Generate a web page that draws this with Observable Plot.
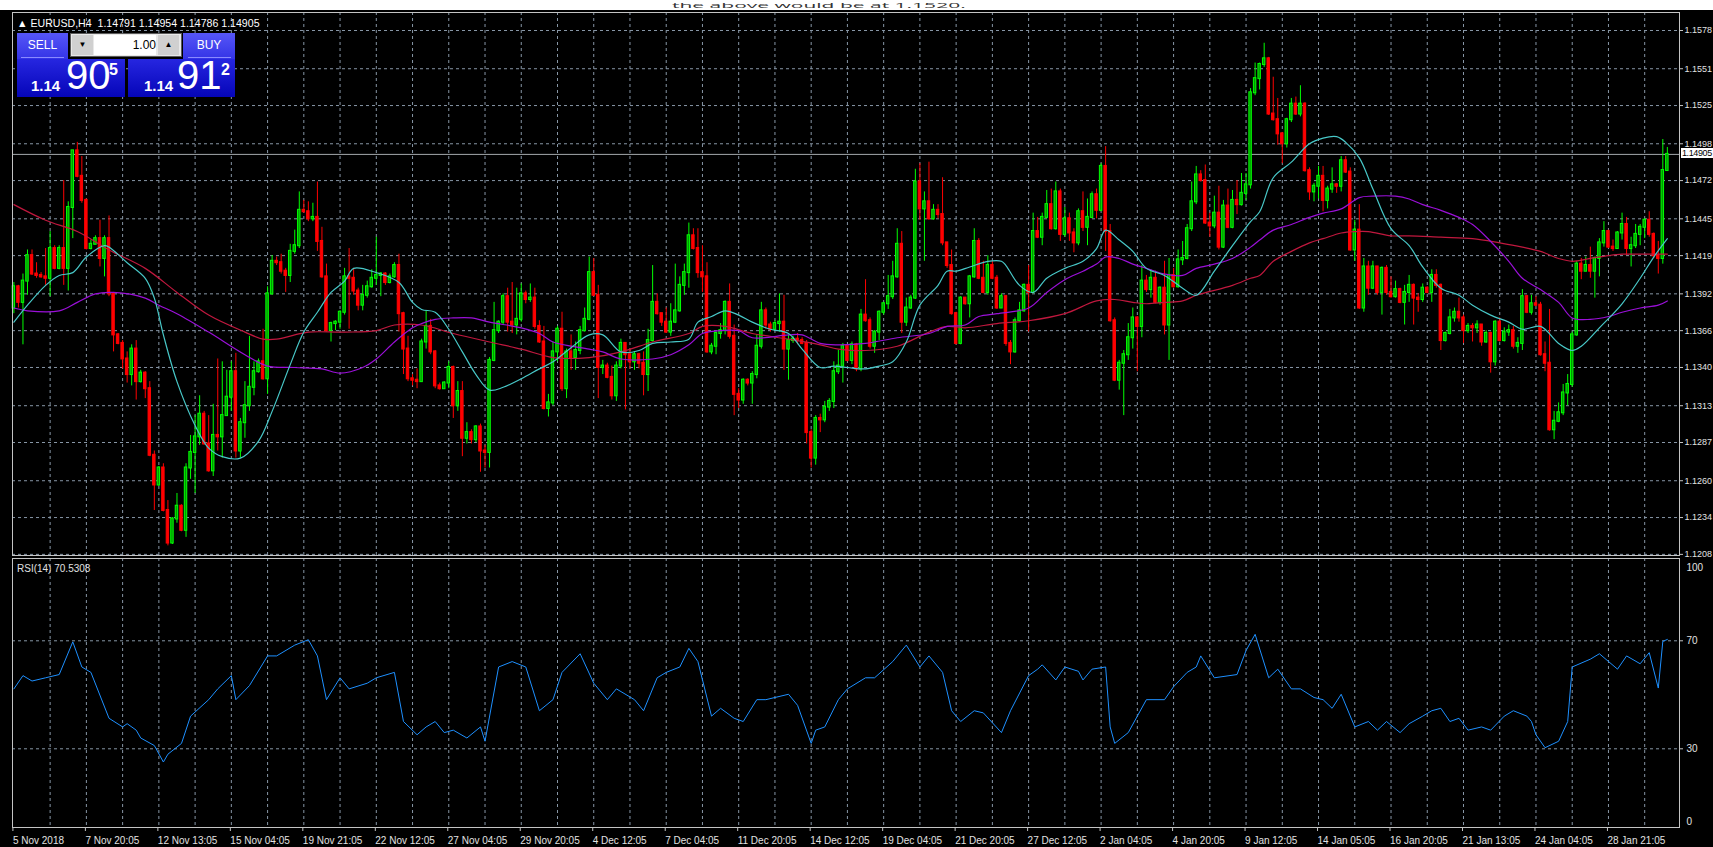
<!DOCTYPE html>
<html><head><meta charset="utf-8">
<script src="https://cdn.jsdelivr.net/npm/d3@7"></script>
<script src="https://cdn.jsdelivr.net/npm/@observablehq/plot@0.6"></script>
<style>
html,body{margin:0;padding:0;background:#000;}
#wrap{position:relative;width:1713px;height:847px;overflow:hidden;background:#000;font-family:"Liberation Sans",Arial,sans-serif;}
#wrap svg{position:absolute;left:0;top:0;}
.abs{position:absolute;}
#note{left:0;top:0;width:1713px;height:10px;background:#fff;overflow:hidden;}
#note span{position:absolute;left:672px;top:-5px;font:21px "Open Sans",sans-serif;line-height:21px;color:#333;white-space:nowrap;transform:scaleY(0.38);transform-origin:0 50%;}
#hdr{left:17px;top:17px;color:#fff;font-size:10.6px;white-space:nowrap;}
.btop{background:linear-gradient(#5656f7,#3434e6);color:#fff;font-size:12px;text-align:center;line-height:24px;height:26px;}
.bprice{background:linear-gradient(#2626e0,#0505b8);color:#fff;height:38px;}
.small{position:absolute;font-size:15px;font-weight:bold;}
.big{position:absolute;font-size:40px;}
.sup{position:absolute;font-size:16px;font-weight:bold;}
#lot{left:70px;top:33px;width:110px;height:22px;background:#e8e8e8;border:1px solid #5a5a5a;}
#price{left:1681px;top:148px;width:31px;height:10px;background:#fff;color:#000;font-size:9px;line-height:10px;padding-left:1px;letter-spacing:-0.4px;white-space:nowrap;}
#rsiLbl{left:17px;top:563px;color:#e0e0e0;font-size:10px;}
</style></head>
<body><div id="wrap">
<div id="note" class="abs"><span>the above would be at 1.1520.</span></div>
<div id="hdr" class="abs">&#9650; EURUSD,H4&nbsp; 1.14791 1.14954 1.14786 1.14905</div>
<div class="abs btop" style="left:17px;top:33px;width:51px;">SELL</div>
<div class="abs" style="left:21px;top:57px;width:43px;height:1px;background:#8a8aff;"></div>
<div class="abs" id="lot">
  <div class="abs" style="left:1px;top:1px;width:21px;height:20px;background:#d0d0d0;color:#000;font-size:8px;text-align:center;line-height:20px;">&#9660;</div>
  <div class="abs" style="left:23px;top:1px;width:62px;height:20px;background:#fff;color:#000;font-size:12px;text-align:right;line-height:20px;">1.00</div>
  <div class="abs" style="left:87px;top:1px;width:21px;height:20px;background:#d0d0d0;color:#000;font-size:8px;text-align:center;line-height:20px;">&#9650;</div>
</div>
<div class="abs btop" style="left:183px;top:33px;width:52px;">BUY</div>
<div class="abs" style="left:188px;top:57px;width:43px;height:1px;background:#8a8aff;"></div>
<div class="abs bprice" style="left:17px;top:59px;width:108px;">
  <span class="small" style="left:14px;top:18px;">1.14</span>
  <span class="big" style="left:49px;top:-6px;">90</span>
  <span class="sup" style="left:92px;top:2px;">5</span>
</div>
<div class="abs bprice" style="left:128px;top:59px;width:107px;">
  <span class="small" style="left:16px;top:18px;">1.14</span>
  <span class="big" style="left:49px;top:-6px;">91</span>
  <span class="sup" style="left:93px;top:2px;">2</span>
</div>
<div id="rsiLbl" class="abs">RSI(14) 70.5308</div>
</div>
<script>
// ---------- data ----------
const firstOpen = 1.1382;
const closes = [
1.1397,1.1386,1.1401,1.1419,1.1406,1.1405,1.1404,1.1403,1.1424,1.1410,
1.1424,1.1410,1.1453,1.1493,1.1475,1.1458,1.1424,1.1427,1.1431,1.1417,
1.1431,1.1392,1.1363,1.1357,1.1346,1.1335,1.1353,1.1330,1.1336,1.1325,
1.1278,1.1257,1.1269,1.1239,1.1216,1.1233,1.1242,1.1225,1.1269,1.1280,
1.1291,1.1307,1.1286,1.1267,1.1292,1.1291,1.1306,1.1319,1.1337,1.1281,
1.1301,1.1313,1.1326,1.1337,1.1344,1.1332,1.1392,1.1415,1.1414,1.1408,
1.1405,1.1422,1.1426,1.1451,1.1450,1.1445,1.1446,1.1429,1.1404,1.1366,
1.1371,1.1372,1.1379,1.1404,1.1403,1.1394,1.1384,1.1391,1.1397,1.1403,
1.1405,1.1406,1.1400,1.1404,1.1412,1.1378,1.1353,1.1332,1.1331,1.1330,
1.1358,1.1369,1.1351,1.1327,1.1325,1.1329,1.1340,1.1313,1.1323,1.1290,
1.1294,1.1289,1.1298,1.1281,1.1280,1.1345,1.1366,1.1372,1.1390,1.1372,
1.1370,1.1374,1.1392,1.1388,1.1389,1.1369,1.1358,1.1311,1.1315,1.1351,
1.1367,1.1325,1.1351,1.1347,1.1352,1.1366,1.1374,1.1407,1.1391,1.1340,
1.1341,1.1333,1.1320,1.1341,1.1357,1.1349,1.1344,1.1349,1.1343,1.1335,
1.1359,1.1386,1.1378,1.1372,1.1365,1.1372,1.1380,1.1398,1.1407,1.1433,
1.1424,1.1407,1.1404,1.1351,1.1355,1.1364,1.1366,1.1386,1.1362,1.1321,
1.1317,1.1331,1.1329,1.1335,1.1355,1.1380,1.1370,1.1367,1.1371,1.1372,
1.1353,1.1359,1.1360,1.1359,1.1357,1.1294,1.1276,1.1304,1.1303,1.1312,
1.1316,1.1337,1.1341,1.1355,1.1345,1.1356,1.1339,1.1377,1.1373,1.1355,
1.1365,1.1379,1.1385,1.1390,1.1404,1.1427,1.1372,1.1382,1.1389,1.1471,
1.1452,1.1457,1.1445,1.1451,1.1448,1.1428,1.1412,1.1378,1.1357,1.1389,
1.1385,1.1404,1.1429,1.1403,1.1393,1.1412,1.1403,1.1382,1.1390,1.1357,
1.1351,1.1373,1.1380,1.1398,1.1393,1.1436,1.1432,1.1446,1.1455,1.1438,
1.1464,1.1434,1.1445,1.1435,1.1428,1.1450,1.1439,1.1446,1.1462,1.1451,
1.1482,1.1436,1.1373,1.1331,1.1343,1.1349,1.1361,1.1375,1.1369,1.1401,
1.1395,1.1403,1.1386,1.1396,1.1370,1.1405,1.1397,1.1416,1.1417,1.1438,
1.1457,1.1476,1.1472,1.1442,1.1440,1.1449,1.1425,1.1454,1.1439,1.1458,
1.1455,1.1463,1.1469,1.1534,1.1544,1.1554,1.1558,1.1519,1.1515,1.1505,
1.1498,1.1515,1.1526,1.1519,1.1526,1.1479,1.1464,1.1468,1.1475,1.1458,
1.1466,1.1469,1.1468,1.1486,1.1478,1.1423,1.1437,1.1382,1.1411,1.1396,
1.1411,1.1393,1.1410,1.1393,1.1390,1.1395,1.1386,1.1393,1.1398,1.1389,
1.1388,1.1396,1.1393,1.1405,1.1398,1.1359,1.1364,1.1375,1.1379,1.1375,
1.1366,1.1369,1.1368,1.1370,1.1358,1.1364,1.1344,1.1372,1.1359,1.1365,
1.1366,1.1355,1.1357,1.1390,1.1379,1.1385,1.1384,1.1349,1.1343,1.1296,
1.1302,1.1308,1.1322,1.1328,1.1363,1.1413,1.1408,1.1412,1.1408,1.1417,
1.1428,1.1436,1.1425,1.1424,1.1435,1.1441,1.1424,1.1426,1.1434,1.1439,
1.1444,1.1434,1.1419,1.1417,1.14791,1.14905];
const highs = [
1.1400,1.1398,1.1406,1.1423,1.1423,1.1414,1.1407,1.1424,1.1436,1.1426,
1.1426,1.1472,1.1457,1.1493,1.1499,1.1489,1.1459,1.1430,1.1433,1.1444,
1.1433,1.1447,1.1393,1.1364,1.1359,1.1351,1.1356,1.1359,1.1338,1.1337,
1.1330,1.1281,1.1270,1.1272,1.1246,1.1234,1.1251,1.1243,1.1272,1.1292,
1.1306,1.1320,1.1309,1.1306,1.1314,1.1346,1.1344,1.1338,1.1344,1.1350,
1.1304,1.1330,1.1362,1.1344,1.1346,1.1367,1.1397,1.1419,1.1418,1.1420,
1.1410,1.1427,1.1437,1.1464,1.1458,1.1457,1.1456,1.1471,1.1439,1.1413,
1.1372,1.1373,1.1380,1.1410,1.1424,1.1410,1.1396,1.1398,1.1401,1.1409,
1.1432,1.1407,1.1407,1.1406,1.1414,1.1420,1.1379,1.1362,1.1335,1.1339,
1.1360,1.1380,1.1374,1.1352,1.1329,1.1330,1.1344,1.1341,1.1330,1.1330,
1.1301,1.1296,1.1299,1.1300,1.1285,1.1347,1.1386,1.1373,1.1392,1.1396,
1.1400,1.1396,1.1399,1.1394,1.1399,1.1396,1.1373,1.1369,1.1321,1.1358,
1.1369,1.1379,1.1353,1.1363,1.1358,1.1369,1.1382,1.1418,1.1417,1.1398,
1.1345,1.1343,1.1341,1.1344,1.1360,1.1357,1.1353,1.1351,1.1350,1.1351,
1.1367,1.1412,1.1392,1.1378,1.1382,1.1385,1.1413,1.1404,1.1413,1.1442,
1.1438,1.1438,1.1426,1.1414,1.1357,1.1365,1.1371,1.1387,1.1399,1.1370,
1.1325,1.1332,1.1332,1.1337,1.1363,1.1386,1.1382,1.1372,1.1373,1.1392,
1.1391,1.1363,1.1362,1.1364,1.1361,1.1359,1.1296,1.1306,1.1307,1.1316,
1.1318,1.1344,1.1352,1.1357,1.1356,1.1358,1.1357,1.1381,1.1402,1.1375,
1.1366,1.1380,1.1386,1.1405,1.1415,1.1438,1.1436,1.1389,1.1391,1.1480,
1.1484,1.1464,1.1485,1.1455,1.1455,1.1474,1.1428,1.1423,1.1379,1.1390,
1.1389,1.1405,1.1438,1.1431,1.1415,1.1419,1.1415,1.1405,1.1392,1.1391,
1.1359,1.1375,1.1386,1.1399,1.1412,1.1449,1.1446,1.1449,1.1465,1.1466,
1.1471,1.1466,1.1453,1.1449,1.1438,1.1452,1.1464,1.1459,1.1464,1.1466,
1.1484,1.1496,1.1441,1.1375,1.1345,1.1352,1.1371,1.1382,1.1376,1.1412,
1.1405,1.1409,1.1408,1.1397,1.1415,1.1417,1.1410,1.1423,1.1429,1.1441,
1.1471,1.1482,1.1479,1.1483,1.1449,1.1461,1.1468,1.1458,1.1466,1.1465,
1.1472,1.1477,1.1477,1.1537,1.1555,1.1555,1.1569,1.1559,1.1545,1.1530,
1.1506,1.1516,1.1530,1.1531,1.1539,1.1527,1.1481,1.1470,1.1482,1.1482,
1.1468,1.1481,1.1470,1.1489,1.1489,1.1481,1.1444,1.1455,1.1417,1.1415,
1.1415,1.1411,1.1411,1.1412,1.1404,1.1401,1.1396,1.1398,1.1405,1.1399,
1.1392,1.1399,1.1397,1.1409,1.1409,1.1399,1.1365,1.1381,1.1382,1.1389,
1.1377,1.1371,1.1371,1.1373,1.1370,1.1366,1.1365,1.1373,1.1375,1.1368,
1.1370,1.1369,1.1361,1.1395,1.1391,1.1391,1.1390,1.1386,1.1358,1.1381,
1.1309,1.1315,1.1328,1.1335,1.1365,1.1415,1.1417,1.1418,1.1425,1.1418,
1.1431,1.1443,1.1437,1.1430,1.1436,1.1449,1.1446,1.1432,1.1441,1.1441,
1.1445,1.1450,1.1435,1.1429,1.1501,1.14954];
const lows = [
1.1378,1.1382,1.1356,1.1391,1.1405,1.1403,1.1403,1.1398,1.1390,1.1409,
1.1409,1.1398,1.1394,1.1431,1.1474,1.1456,1.1423,1.1423,1.1427,1.1411,
1.1404,1.1390,1.1351,1.1356,1.1339,1.1329,1.1327,1.1317,1.1329,1.1318,
1.1277,1.1239,1.1256,1.1238,1.1214,1.1215,1.1230,1.1224,1.1220,1.1261,
1.1251,1.1285,1.1285,1.1266,1.1263,1.1281,1.1276,1.1306,1.1309,1.1276,
1.1276,1.1290,1.1309,1.1320,1.1336,1.1331,1.1321,1.1391,1.1412,1.1406,
1.1393,1.1400,1.1420,1.1424,1.1449,1.1443,1.1443,1.1422,1.1403,1.1365,
1.1358,1.1366,1.1367,1.1377,1.1367,1.1391,1.1380,1.1380,1.1389,1.1396,
1.1398,1.1390,1.1398,1.1399,1.1403,1.1365,1.1335,1.1330,1.1327,1.1325,
1.1330,1.1353,1.1349,1.1325,1.1324,1.1325,1.1325,1.1304,1.1309,1.1277,
1.1286,1.1286,1.1287,1.1266,1.1269,1.1269,1.1344,1.1364,1.1370,1.1365,
1.1364,1.1363,1.1372,1.1385,1.1386,1.1367,1.1357,1.1310,1.1305,1.1313,
1.1344,1.1323,1.1318,1.1338,1.1338,1.1349,1.1365,1.1373,1.1390,1.1318,
1.1335,1.1332,1.1317,1.1316,1.1339,1.1310,1.1339,1.1338,1.1339,1.1320,
1.1323,1.1358,1.1377,1.1369,1.1364,1.1362,1.1371,1.1379,1.1391,1.1396,
1.1423,1.1403,1.1393,1.1350,1.1349,1.1349,1.1360,1.1363,1.1360,1.1306,
1.1311,1.1314,1.1327,1.1314,1.1332,1.1353,1.1367,1.1365,1.1366,1.1365,
1.1338,1.1331,1.1357,1.1356,1.1356,1.1286,1.1269,1.1271,1.1294,1.1301,
1.1309,1.1311,1.1335,1.1329,1.1344,1.1342,1.1337,1.1337,1.1372,1.1353,
1.1350,1.1359,1.1377,1.1381,1.1388,1.1403,1.1364,1.1369,1.1381,1.1388,
1.1444,1.1415,1.1444,1.1444,1.1445,1.1426,1.1410,1.1377,1.1356,1.1356,
1.1384,1.1375,1.1403,1.1402,1.1392,1.1391,1.1402,1.1381,1.1382,1.1355,
1.1342,1.1350,1.1372,1.1379,1.1365,1.1392,1.1431,1.1426,1.1445,1.1437,
1.1437,1.1429,1.1432,1.1429,1.1421,1.1426,1.1436,1.1426,1.1445,1.1445,
1.1450,1.1422,1.1372,1.1330,1.1324,1.1306,1.1345,1.1353,1.1337,1.1361,
1.1393,1.1389,1.1385,1.1384,1.1363,1.1345,1.1396,1.1396,1.1412,1.1416,
1.1436,1.1455,1.1471,1.1441,1.1432,1.1438,1.1423,1.1424,1.1438,1.1438,
1.1448,1.1454,1.1458,1.1466,1.1532,1.1536,1.1552,1.1518,1.1514,1.1497,
1.1484,1.1495,1.1513,1.1518,1.1517,1.1478,1.1458,1.1457,1.1459,1.1450,
1.1452,1.1463,1.1463,1.1464,1.1477,1.1422,1.1415,1.1381,1.1379,1.1391,
1.1395,1.1391,1.1377,1.1391,1.1389,1.1389,1.1385,1.1370,1.1386,1.1370,
1.1379,1.1386,1.1392,1.1386,1.1396,1.1352,1.1358,1.1363,1.1372,1.1372,
1.1357,1.1364,1.1358,1.1364,1.1355,1.1357,1.1336,1.1341,1.1358,1.1358,
1.1362,1.1353,1.1350,1.1352,1.1378,1.1377,1.1383,1.1348,1.1337,1.1295,
1.1289,1.1301,1.1306,1.1313,1.1326,1.1362,1.1402,1.1409,1.1403,1.1389,
1.1404,1.1425,1.1424,1.1422,1.1424,1.1430,1.1419,1.1411,1.1424,1.1426,
1.1431,1.1432,1.1417,1.1406,1.1413,1.14786];

// moving averages (bar index, value)
const fastBars = [0,3,7,10,13,16,20,21,25,29,31,33,36,40,43,46,50,54,57,61,64,67,70,73,75,80,85,88,90,93,96,99,102,105,108,112,116,119,123,127,130,134,138,141,145,149,151,154,157,160,163,167,171,174,178,181,184,188,191,194,197,200,204,206,208,211,215,218,219,222,225,228,232,236,239,241,244,247,250,254,258,261,265,269,273,275,278,282,286,289,292,294,297,300,304,308,311,315,319,322,326,330,333,337,341,344,346,350,355,359,362,365];
const fastVals = [1.1372,1.1384,1.1398,1.1405,1.1407,1.1418,1.1426,1.1425,1.1414,1.1403,1.1389,1.1363,1.1330,1.1299,1.1283,1.1277,1.1276,1.1288,1.1309,1.1342,1.1365,1.1379,1.1393,1.1401,1.1410,1.1407,1.1400,1.1386,1.1381,1.1379,1.1367,1.1351,1.1335,1.1324,1.1326,1.1332,1.1339,1.1344,1.1354,1.1363,1.1363,1.1351,1.1352,1.1357,1.1358,1.1360,1.1372,1.1376,1.1380,1.1377,1.1372,1.1367,1.1364,1.1353,1.1340,1.1341,1.1340,1.1339,1.1341,1.1344,1.1358,1.1384,1.1398,1.1408,1.1408,1.1411,1.1415,1.1415,1.1412,1.1398,1.1393,1.1403,1.1410,1.1415,1.1424,1.1437,1.1430,1.1422,1.1410,1.1405,1.1396,1.1391,1.1408,1.1426,1.1443,1.1450,1.1474,1.1485,1.1498,1.1502,1.1503,1.1499,1.1488,1.1466,1.1438,1.1426,1.1411,1.1396,1.1391,1.1384,1.1377,1.1372,1.1367,1.1369,1.1357,1.1352,1.1355,1.1368,1.1385,1.1403,1.1418,1.1431];
const midBars = [0,3,10,14,18,22,29,32,36,43,51,56,62,68,72,77,80,84,88,90,93,97,101,105,112,116,119,127,130,134,141,145,149,152,156,160,163,171,174,178,182,188,195,202,206,210,213,217,224,228,232,236,239,241,244,247,250,254,258,261,265,269,273,275,278,282,286,289,293,297,300,305,308,311,315,319,322,326,330,333,337,341,344,348,352,355,359,363,365];
const midVals = [1.1382,1.1380,1.1380,1.1386,1.1392,1.1393,1.1389,1.1384,1.1378,1.1365,1.1349,1.1341,1.1340,1.1339,1.1336,1.1340,1.1346,1.1358,1.1368,1.1371,1.1374,1.1375,1.1375,1.1372,1.1368,1.1364,1.1358,1.1353,1.1351,1.1346,1.1346,1.1349,1.1356,1.1364,1.1366,1.1366,1.1361,1.1363,1.1363,1.1357,1.1356,1.1357,1.1361,1.1364,1.1369,1.1370,1.1376,1.1378,1.1382,1.1393,1.1402,1.1408,1.1413,1.1418,1.1417,1.1413,1.1410,1.1406,1.1405,1.1410,1.1413,1.1417,1.1425,1.1430,1.1437,1.1441,1.1446,1.1449,1.1452,1.1460,1.1461,1.1461,1.1459,1.1455,1.1451,1.1446,1.1441,1.1429,1.1415,1.1403,1.1395,1.1386,1.1375,1.1374,1.1376,1.1379,1.1382,1.1384,1.1387];
const slowBars = [0,7,14,21,29,36,43,51,55,58,62,65,73,80,84,90,97,105,112,119,127,134,141,149,152,157,163,171,178,182,188,195,202,206,210,217,224,232,239,243,247,250,254,258,261,269,273,275,278,282,286,289,293,296,299,304,308,315,322,328,333,337,341,344,348,352,355,359,365];
const slowVals = [1.1455,1.1444,1.1436,1.1423,1.1410,1.1393,1.1377,1.1365,1.1360,1.1360,1.1363,1.1365,1.1365,1.1366,1.1370,1.1370,1.1364,1.1358,1.1353,1.1347,1.1347,1.1351,1.1358,1.1364,1.1369,1.1369,1.1364,1.1360,1.1356,1.1353,1.1352,1.1355,1.1365,1.1369,1.1368,1.1371,1.1373,1.1378,1.1387,1.1388,1.1386,1.1385,1.1386,1.1387,1.1391,1.1398,1.1403,1.1405,1.1415,1.1422,1.1428,1.1431,1.1435,1.1436,1.1436,1.1433,1.1433,1.1432,1.1431,1.1428,1.1425,1.1422,1.1417,1.1415,1.1417,1.1419,1.1420,1.1420,1.1420];

// RSI(14)
const rsiBars = [0,2,4,7,10,13,15,17,21,24,25,27,28,31,33,34,37,39,43,45,48,49,52,56,58,62,65,67,69,72,74,78,80,84,86,89,91,93,95,97,100,103,104,107,110,113,116,119,121,125,128,131,133,137,139,142,144,147,149,151,154,156,159,161,164,166,171,173,176,177,179,182,184,188,190,194,197,200,202,205,207,209,212,214,218,220,224,226,227,230,232,235,236,238,241,242,243,246,248,250,254,256,259,261,262,265,270,272,274,277,279,282,284,287,289,291,293,296,299,301,303,306,308,311,313,315,317,319,321,324,326,329,331,334,335,336,338,341,343,344,348,350,354,356,359,361,363,364,365];
const rsiVals = [52.2,57.1,55.1,56.3,57.5,69.6,60.3,58.3,41.3,38.1,39.3,36.9,34.0,31.2,25.1,28.0,32.0,42.1,48.2,52.2,57.1,48.2,53.4,64.4,64.4,68.4,70.4,64.4,48.2,56.3,52.2,54.3,56.3,58.3,40.1,35.2,38.1,40.1,36.0,36.9,34.0,38.1,32.8,60.3,62.3,60.3,44.1,48.2,58.3,65.2,54.3,48.2,52.2,48.2,44.1,56.3,58.3,60.3,67.2,62.3,42.1,45.0,41.3,40.1,48.2,48.2,50.2,46.1,32.0,36.9,38.1,48.2,52.2,56.3,56.3,62.3,68.4,60.3,64.4,58.3,44.1,40.1,44.1,43.3,36.0,44.1,57.1,59.5,61.1,55.5,60.3,58.7,55.5,59.5,60.3,38.1,32.0,36.0,42.1,48.2,48.2,53.0,58.3,60.3,64.4,56.3,57.5,66.4,72.4,56.3,59.5,52.2,52.2,49.0,48.2,45.0,50.2,38.1,40.1,36.9,40.1,36.0,39.3,42.1,44.1,45.0,40.1,41.3,36.9,38.1,36.9,42.1,44.1,42.1,40.1,35.2,30.4,32.8,40.1,60.3,63.2,65.2,59.5,64.4,61.5,65.6,52.5,69.8,70.5];

const priceTicks = [1.1578,1.1551,1.1525,1.1498,1.1472,1.1445,1.1419,1.1392,1.1366,1.1340,1.1313,1.1287,1.1260,1.1234,1.1208];
const rsiLevels = [30,70];
const lastPrice = 1.14905;
const timeLabels = ["5 Nov 2018","7 Nov 20:05","12 Nov 13:05","15 Nov 04:05","19 Nov 21:05","22 Nov 12:05","27 Nov 04:05","29 Nov 20:05","4 Dec 12:05","7 Dec 04:05","11 Dec 20:05","14 Dec 12:05","19 Dec 04:05","21 Dec 20:05","27 Dec 12:05","2 Jan 04:05","4 Jan 20:05","9 Jan 12:05","14 Jan 05:05","16 Jan 20:05","21 Jan 13:05","24 Jan 04:05","28 Jan 21:05"];

// ---------- tables ----------
const candles = closes.map((c, i) => ({i, o: i === 0 ? firstOpen : closes[i - 1], h: highs[i], l: lows[i], c}));
const fastRows = fastBars.map((b, k) => ({bar: b, v: fastVals[k]}));
const midRows = midBars.map((b, k) => ({bar: b, v: midVals[k]}));
const slowRows = slowBars.map((b, k) => ({bar: b, v: slowVals[k]}));
const rsiRows = rsiBars.map((b, k) => ({bar: b, v: rsiVals[k]}));
const labelBars = timeLabels.map((_, k) => k * 16);
const gridBars = d3.range(8, 361, 8);

const GRID = "#8796a6", FRAME = "#c4c4c4", TXT = "#e2e2e2";
const UP = "#00ff00", UPFILL = "#009a00", DN = "#ff0000";
const xScale = {domain: [0, 365], range: [13.4, 1666.85], axis: null};
const font = "'Liberation Sans', Arial, sans-serif";

const main = Plot.plot({
  width: 1713, height: 847,
  marginLeft: 12, marginRight: 34, marginTop: 12, marginBottom: 292,
  x: xScale,
  y: {domain: [1.12084, 1.15785], range: [553.3, 29.3], axis: null},
  color: {type: "identity"},
  style: {background: "transparent", color: TXT, fontFamily: font, fontSize: "10px"},
  marks: [
    Plot.ruleY(priceTicks, {stroke: GRID, strokeDasharray: "3,3"}),
    Plot.ruleX(gridBars, {stroke: GRID, strokeDasharray: "3,3"}),
    Plot.ruleY([lastPrice], {stroke: "#a4a8ac"}),
    Plot.ruleX(candles, {x: "i", y1: "l", y2: "h", stroke: d => d.c >= d.o ? UP : DN, strokeWidth: 1}),
    Plot.rect(candles, {x1: d => d.i - 0.27, x2: d => d.i + 0.27, y1: "o", y2: "c",
      fill: d => d.c >= d.o ? UPFILL : DN, stroke: d => d.c >= d.o ? UP : DN, strokeWidth: 1,
      insetTop: -0.5, insetBottom: -0.5}),
    Plot.line(slowRows, {x: "bar", y: "v", stroke: "#c0183e", strokeWidth: 1.2, curve: "catmull-rom"}),
    Plot.line(midRows, {x: "bar", y: "v", stroke: "#9a10d8", strokeWidth: 1.2, curve: "catmull-rom"}),
    Plot.line(fastRows, {x: "bar", y: "v", stroke: "#48c8c8", strokeWidth: 1.2, curve: "catmull-rom"}),
    Plot.frame({stroke: FRAME}),
    Plot.axisY(priceTicks, {anchor: "right", tickSize: 3, tickPadding: 2, fontSize: 9, stroke: FRAME, fill: TXT,
      label: null, tickFormat: d3.format(".4f")})
  ]
});

const rsi = Plot.plot({
  width: 1713, height: 847,
  marginLeft: 12, marginRight: 34, marginTop: 558, marginBottom: 20,
  x: xScale,
  y: {domain: [0, 100], range: [829.3, 559.3], axis: null},
  style: {background: "transparent", color: TXT, fontFamily: font, fontSize: "10px"},
  marks: [
    Plot.ruleX(gridBars, {stroke: GRID, strokeDasharray: "3,3"}),
    Plot.ruleY(rsiLevels, {stroke: GRID, strokeDasharray: "3,3"}),
    Plot.line(rsiRows, {x: "bar", y: "v", stroke: "#1e90ff", strokeWidth: 1}),
    Plot.frame({stroke: FRAME}),
    Plot.axisY(rsiLevels, {anchor: "right", tickSize: 3, tickPadding: 4, fontSize: 10, stroke: FRAME, fill: TXT, label: null}),
    Plot.text([100], {y: d => d, text: d => String(d), frameAnchor: "right", dx: 7, dy: 8, textAnchor: "start", fill: TXT, fontSize: 10}),
    Plot.text([0], {y: d => d, text: d => String(d), frameAnchor: "right", dx: 7, dy: -8, textAnchor: "start", fill: TXT, fontSize: 10}),
    Plot.axisX(labelBars, {anchor: "bottom", tickSize: 4, tickPadding: 5, fontSize: 10, textAnchor: "start", dx: -1,
      stroke: FRAME, fill: TXT, label: null, tickFormat: d => timeLabels[labelBars.indexOf(d)]})
  ]
});

const wrap = document.getElementById("wrap");
wrap.insertBefore(main, wrap.firstChild);
wrap.insertBefore(rsi, wrap.firstChild);

// current price box on the right axis, positioned through the y scale
const py = main.scale("y").apply(lastPrice);
const box = document.createElement("div");
box.id = "price"; box.className = "abs";
box.textContent = "1.14905";
box.style.top = (py - 5.5) + "px";
wrap.appendChild(box);
</script>
</body></html>
